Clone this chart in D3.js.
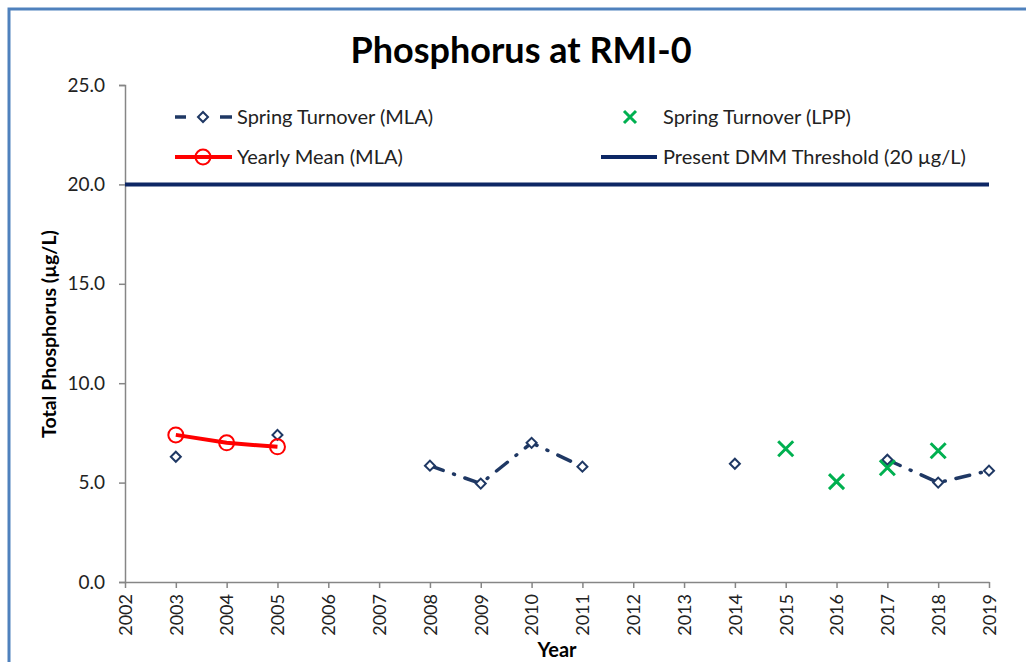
<!DOCTYPE html>
<html>
<head>
<meta charset="utf-8">
<script src="https://cdn.jsdelivr.net/npm/d3@7"></script>
<style>
  body { margin: 0; background: #fff; }
  svg { display: block; font-family: Lato, "Open Sans", sans-serif; }
</style>
</head>
<body>
<svg id="chart" width="1026" height="662"></svg>
<script>
// Spring Turnover (MLA)
const springYears = [2003, 2005, 2008, 2009, 2010, 2011, 2014, 2017, 2018, 2019];
const springValues = [6.3, 7.4, 5.85, 4.95, 7.0, 5.8, 5.95, 6.15, 5.0, 5.6];

// Spring Turnover (LPP)
const lppYears = [2015, 2016, 2017, 2018];
const lppValues = [6.7, 5.05, 5.75, 6.6];

// Yearly Mean (MLA)
const meanYears = [2003, 2004, 2005];
const meanValues = [7.4, 7.0, 6.8];

const threshold = 20;
const yearTicks = d3.range(2002, 2020);
const yTicks = [0, 5, 10, 15, 20, 25];

const svg = d3.select("#chart");
const margin = { left: 125, right: 1026 - 989, top: 85, bottom: 662 - 582 };
const width = 1026, height = 662;

// 外枠
svg.append("rect")
  .attr("x", 9).attr("y", 9)
  .attr("width", 1030).attr("height", 680)
  .attr("fill", "none")
  .attr("stroke", "#4F81BD")
  .attr("stroke-width", 3);

const x = d3.scaleLinear().domain([2002, 2019]).range([margin.left, width - margin.right]);
const y = d3.scaleLinear().domain([0, 25]).range([height - margin.bottom, margin.top]);

// タイトル
svg.append("text")
  .attr("x", 521).attr("y", 63)
  .attr("text-anchor", "middle")
  .attr("font-size", 36).attr("font-weight", "bold")
  .text("Phosphorus at RMI-0");

// 軸
const axisColor = "#868686";
const yAxis = svg.append("g")
  .attr("transform", `translate(${margin.left},0)`)
  .call(d3.axisLeft(y).tickValues(yTicks).tickFormat(d3.format(".1f")).tickSize(6).tickPadding(14));
const xAxis = svg.append("g")
  .attr("transform", `translate(0,${y(0)})`)
  .call(d3.axisBottom(x).tickValues(yearTicks).tickFormat(d3.format("d")).tickSize(6).tickSizeOuter(0));

[yAxis, xAxis].forEach(a => {
  a.select(".domain").attr("stroke", axisColor).attr("stroke-width", 1.5);
  a.selectAll(".tick line").attr("stroke", axisColor).attr("stroke-width", 1.5);
  a.selectAll("text").attr("font-size", 19).attr("fill", "#222").attr("font-family", "Lato, sans-serif");
});
xAxis.selectAll("text")
  .attr("font-size", 18)
  .attr("transform", "rotate(-90)")
  .attr("text-anchor", "end")
  .attr("x", -12).attr("y", 0).attr("dy", "0.35em");

// 軸ラベル
svg.append("text")
  .attr("transform", `translate(56,334) rotate(-90)`)
  .attr("text-anchor", "middle")
  .attr("font-size", 19.5).attr("font-weight", "bold")
  .text("Total Phosphorus (µg/L)");
svg.append("text")
  .attr("x", 557).attr("y", 657)
  .attr("text-anchor", "middle")
  .attr("font-size", 20).attr("font-weight", "bold")
  .text("Year");

// 閾値ライン
svg.append("line")
  .attr("x1", x(2002)).attr("x2", x(2019))
  .attr("y1", y(threshold)).attr("y2", y(threshold))
  .attr("stroke", "#0D2765").attr("stroke-width", 4);

// 春のターンオーバー（MLA）: 連続した年だけ線で結ぶ
const springByYear = new Map(springYears.map((yr, i) => [yr, springValues[i]]));
const springSeries = yearTicks.map(yr => ({ year: yr, value: springByYear.has(yr) ? springByYear.get(yr) : null }));
const navy = "#1F3864";

svg.append("path")
  .datum(springSeries)
  .attr("fill", "none")
  .attr("stroke", navy)
  .attr("stroke-width", 3.5)
  .attr("stroke-linecap", "round")
  .attr("stroke-dasharray", "14,11,1,11")
  .attr("d", d3.line().defined(d => d.value !== null).x(d => x(d.year)).y(d => y(d.value)));

const diamond = d3.symbol().type(d3.symbolSquare).size(50);
svg.append("g").selectAll("path")
  .data(springYears.map((yr, i) => ({ year: yr, value: springValues[i] })))
  .join("path")
  .attr("transform", d => `translate(${x(d.year)},${y(d.value)}) rotate(45)`)
  .attr("d", diamond)
  .attr("fill", "#fff")
  .attr("stroke", navy)
  .attr("stroke-width", 2);

// 年平均（MLA）
const meanData = meanYears.map((yr, i) => ({ year: yr, value: meanValues[i] }));
svg.append("path")
  .datum(meanData)
  .attr("fill", "none")
  .attr("stroke", "#FF0000")
  .attr("stroke-width", 4)
  .attr("d", d3.line().x(d => x(d.year)).y(d => y(d.value)));
svg.append("g").selectAll("circle")
  .data(meanData)
  .join("circle")
  .attr("cx", d => x(d.year)).attr("cy", d => y(d.value))
  .attr("r", 7.5)
  .attr("fill", "none")
  .attr("stroke", "#FF0000")
  .attr("stroke-width", 2);

// 春のターンオーバー（LPP）
const green = "#00B050";
const cross = (g, cx, cy, s) => {
  g.append("path")
    .attr("d", `M${cx - s},${cy - s}L${cx + s},${cy + s}M${cx - s},${cy + s}L${cx + s},${cy - s}`)
    .attr("stroke", green).attr("stroke-width", 3).attr("fill", "none");
};
const lppG = svg.append("g");
lppYears.forEach((yr, i) => cross(lppG, x(yr), y(lppValues[i]), 7.5));

// 凡例
const leg = svg.append("g").attr("font-size", 20).attr("fill", "#222");
const row1 = 117, row2 = 157;
leg.append("line").attr("x1", 175).attr("x2", 186).attr("y1", row1).attr("y2", row1)
  .attr("stroke", navy).attr("stroke-width", 3.5);
leg.append("line").attr("x1", 220).attr("x2", 232).attr("y1", row1).attr("y2", row1)
  .attr("stroke", navy).attr("stroke-width", 3.5);
leg.append("path")
  .attr("transform", `translate(203,${row1}) rotate(45)`)
  .attr("d", diamond)
  .attr("fill", "#fff").attr("stroke", navy).attr("stroke-width", 2);
leg.append("text").attr("x", 237).attr("y", row1).attr("dy", "0.35em").text("Spring Turnover (MLA)");

leg.append("line").attr("x1", 175).attr("x2", 232).attr("y1", row2).attr("y2", row2)
  .attr("stroke", "#FF0000").attr("stroke-width", 4);
leg.append("circle").attr("cx", 203).attr("cy", row2).attr("r", 7.5)
  .attr("fill", "none").attr("stroke", "#FF0000").attr("stroke-width", 2);
leg.append("text").attr("x", 237).attr("y", row2).attr("dy", "0.35em").text("Yearly Mean (MLA)");

cross(leg, 630, row1, 6);
leg.append("text").attr("x", 663).attr("y", row1).attr("dy", "0.35em").text("Spring Turnover (LPP)");

leg.append("line").attr("x1", 601).attr("x2", 657).attr("y1", row2).attr("y2", row2)
  .attr("stroke", "#0D2765").attr("stroke-width", 4);
leg.append("text").attr("x", 663).attr("y", row2).attr("dy", "0.35em").text("Present DMM Threshold (20 µg/L)");
</script>
</body>
</html>
